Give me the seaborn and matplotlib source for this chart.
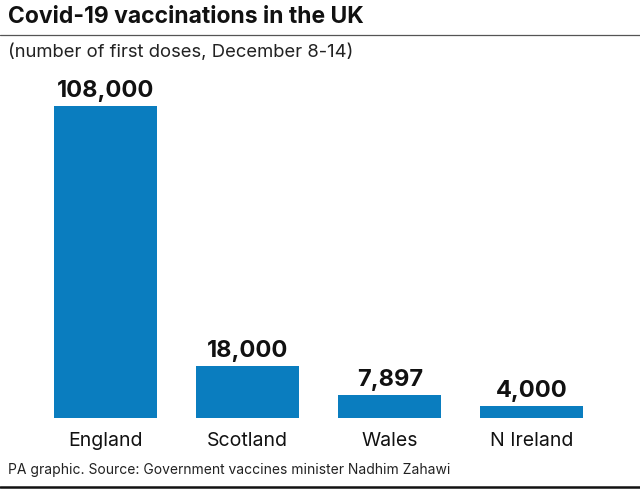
import matplotlib
matplotlib.use("Agg")
import matplotlib.pyplot as plt
import seaborn as sns
import pandas as pd
from matplotlib.lines import Line2D

categories = ["England", "Scotland", "Wales", "N Ireland"]
values = [108000, 18000, 7897, 4000]
value_labels = ["108,000", "18,000", "7,897", "4,000"]

sns.set_theme(style="white")
plt.rcParams['font.family'] = ['Inter', 'DejaVu Sans']

df = pd.DataFrame({"region": categories, "doses": values})

fig = plt.figure(figsize=(6.4, 4.92), dpi=100)
W, H = 640, 492
# axes: x from 34.5 to 603, y baseline 418 up to 80
ax = fig.add_axes([34.5 / W, (H - 418) / H, (603 - 34.5) / W, (418 - 80) / H])
sns.barplot(data=df, x="region", y="doses", color="#0a7dbf", width=0.725,
            saturation=1, linewidth=0, ax=ax)
ax.set_xlim(-0.5, 3.5)
ax.set_ylim(0, 108000 * 338 / 312)
for s in ax.spines.values():
    s.set_visible(False)
ax.set_yticks([])
ax.set_xlabel("")
ax.set_ylabel("")
ax.tick_params(axis="x", length=0, pad=10, labelsize=14, labelcolor="#111111")

for i, (v, lab) in enumerate(zip(values, value_labels)):
    ax.annotate(lab, (i, v), xytext=(0, 3), textcoords="offset points",
                ha="center", va="bottom", fontsize=17, fontweight="bold",
                color="#111111")

fig.text(8 / W, 1 - 17 / H, "Covid-19 vaccinations in the UK", fontsize=16.5,
         fontweight="bold", ha="left", va="center", color="#111111")
fig.text(8 / W, 1 - 52 / H, "(number of first doses, December 8-14)", fontsize=13.3,
         ha="left", va="center", color="#222222")
fig.text(8 / W, 1 - 470 / H, "PA graphic. Source: Government vaccines minister Nadhim Zahawi",
         fontsize=10, ha="left", va="center", color="#222222")

fig.add_artist(Line2D([0, 1], [1 - 34.5 / H, 1 - 34.5 / H], color="#555555", lw=0.9,
                      transform=fig.transFigure))
fig.add_artist(Line2D([0, 1], [1 - 486.5 / H, 1 - 486.5 / H], color="#111111", lw=1.8,
                      transform=fig.transFigure))

fig.savefig("out.png", dpi=100, facecolor="white")
